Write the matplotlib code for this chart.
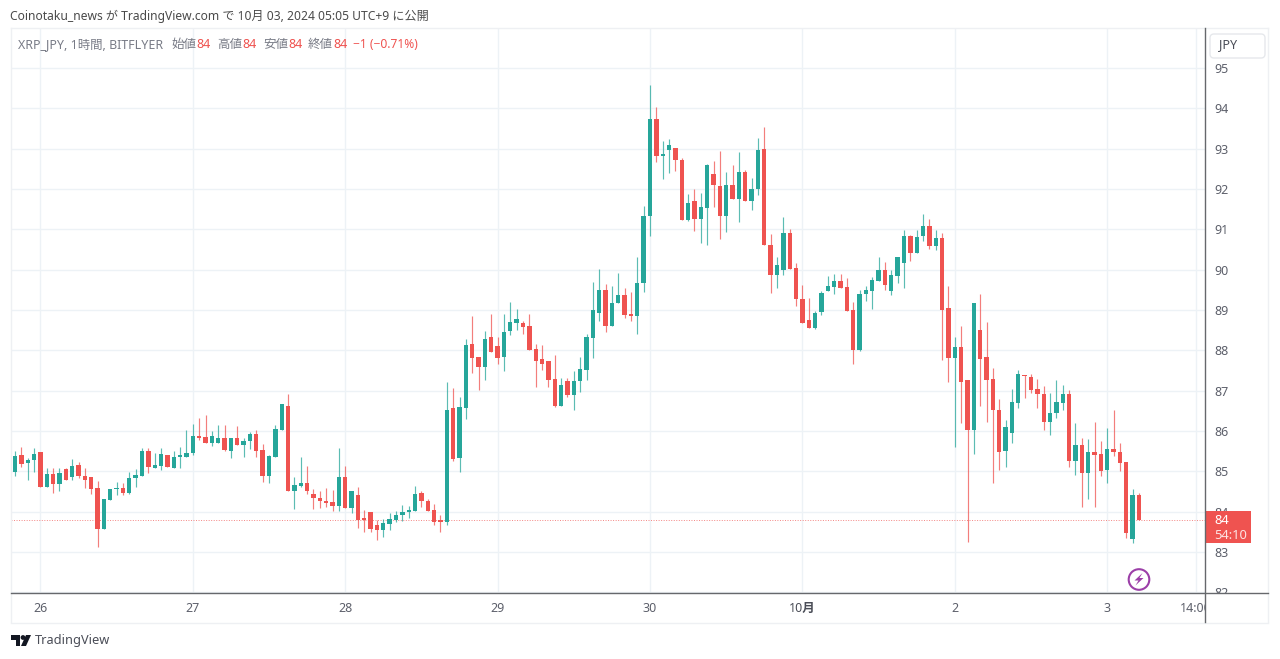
import matplotlib
matplotlib.use("Agg")
import matplotlib.pyplot as plt
from matplotlib.patches import Rectangle, Circle, Polygon, FancyBboxPatch
from matplotlib.transforms import Bbox, IdentityTransform, blended_transform_factory

plt.rcParams["font.family"] = ["Noto Sans", "Noto Sans CJK JP", "DejaVu Sans"]

W, H = 1280, 659
UP = "#26a69a"
DOWN = "#ef5350"
GRID = "#edf2f6"
TEXT = "#5d606b"

# hourly candles
opens = [84.99, 85.40, 85.21, 85.28, 85.47, 84.62, 84.93, 84.69, 85.05, 84.85,
         85.16, 84.88, 84.85, 84.58, 83.57, 84.29, 84.56, 84.58, 84.47, 84.83,
         84.88, 85.50, 85.09, 85.13, 85.40, 85.09, 85.36, 85.36, 85.45, 85.88,
         85.85, 85.69, 85.69, 85.82, 85.49, 85.82, 85.65, 85.74, 85.92, 85.53,
         84.87, 85.36, 86.02, 86.62, 84.50, 84.64, 84.72, 84.44, 84.33, 84.26,
         84.23, 84.14, 84.85, 84.10, 84.41, 83.82, 84.00, 83.67, 83.55, 83.69,
         83.79, 83.92, 83.98, 84.02, 84.45, 84.26, 84.04, 83.77, 83.75, 86.56,
         85.32, 86.56, 88.16, 87.83, 87.59, 88.32, 88.10, 87.83, 88.47, 88.68,
         88.67, 88.60, 88.02, 87.78, 87.73, 87.29, 86.62, 87.23, 86.88, 87.23,
         87.50, 88.31, 88.93, 89.50, 88.60, 89.16, 89.38, 88.89, 88.85, 89.66,
         91.32, 93.73, 92.81, 92.96, 93.01, 92.72, 91.24, 91.69, 91.26, 91.53,
         92.37, 92.08, 91.34, 92.10, 91.76, 92.43, 91.70, 92.00, 92.98, 90.62,
         89.87, 89.99, 90.91, 90.04, 89.28, 88.74, 88.55, 88.96, 89.47, 89.57,
         89.71, 89.56, 88.99, 88.01, 89.39, 89.47, 89.72, 89.98, 89.47, 89.84,
         90.17, 90.83, 90.40, 90.82, 91.07, 90.59, 90.79, 89.04, 87.80, 88.07,
         87.26, 86.02, 88.50, 87.83, 87.28, 86.53, 85.50, 85.95, 86.70, 87.39,
         87.34, 87.05, 86.92, 86.21, 86.45, 86.70, 86.92, 85.25, 85.66, 84.96,
         85.48, 85.42, 85.03, 85.56, 85.47, 85.23, 83.33, 84.41]
highs = [85.50, 85.60, 85.33, 85.57, 85.47, 85.09, 85.07, 85.07, 85.09, 85.31,
         85.23, 85.09, 84.85, 84.76, 84.31, 84.55, 84.74, 84.72, 84.97, 85.06,
         85.57, 85.57, 85.45, 85.57, 85.40, 85.50, 85.60, 86.02, 86.17, 86.31,
         86.40, 86.00, 86.15, 86.15, 85.82, 86.11, 85.82, 85.96, 86.02, 85.67,
         85.40, 86.15, 86.66, 86.92, 84.85, 85.36, 85.12, 84.56, 84.50, 84.58,
         84.54, 85.57, 85.12, 84.51, 84.62, 84.04, 84.00, 83.79, 83.82, 83.96,
         84.02, 84.17, 84.14, 84.64, 84.51, 84.31, 84.18, 83.92, 87.20, 87.07,
         86.83, 88.28, 88.85, 87.83, 88.47, 88.89, 88.32, 88.90, 89.19, 89.02,
         88.73, 88.91, 88.15, 88.12, 87.73, 87.89, 87.31, 87.31, 87.49, 87.82,
         88.40, 89.68, 90.01, 89.64, 89.60, 89.91, 89.54, 89.45, 90.31, 91.57,
         94.58, 94.02, 93.20, 93.24, 93.01, 92.76, 91.87, 92.00, 91.91, 92.63,
         92.68, 92.95, 92.41, 92.59, 92.91, 92.48, 92.26, 93.25, 93.53, 90.88,
         90.31, 91.30, 91.00, 90.16, 89.61, 89.30, 88.98, 89.47, 89.84, 89.89,
         89.89, 89.79, 89.20, 89.50, 89.60, 89.82, 90.31, 90.19, 89.98, 90.31,
         90.97, 90.86, 90.97, 91.37, 91.26, 90.97, 90.91, 89.60, 88.32, 88.59,
         87.26, 89.18, 89.39, 88.69, 87.55, 86.78, 86.28, 87.03, 87.51, 87.39,
         87.40, 87.28, 87.11, 86.95, 87.26, 87.15, 87.01, 86.19, 85.83, 85.81,
         86.21, 85.75, 86.06, 86.53, 85.69, 85.23, 84.55, 84.45]
lows = [84.87, 85.10, 84.79, 84.99, 84.62, 84.62, 84.47, 84.50, 84.79, 84.79,
        84.84, 84.58, 84.44, 83.13, 83.57, 84.29, 84.41, 84.41, 84.44, 84.62,
        84.88, 84.95, 85.09, 85.03, 85.10, 85.07, 85.09, 85.36, 85.40, 85.78,
        85.69, 85.63, 85.69, 85.49, 85.32, 85.65, 85.34, 85.55, 85.36, 84.74,
        84.72, 85.36, 86.01, 84.50, 84.07, 84.60, 84.44, 84.07, 84.10, 84.12,
        84.02, 84.02, 84.10, 83.96, 83.60, 83.50, 83.49, 83.30, 83.38, 83.55,
        83.75, 83.77, 83.85, 84.02, 84.12, 84.02, 83.67, 83.50, 83.67, 85.26,
        84.99, 86.30, 87.44, 87.02, 87.27, 87.95, 87.67, 87.48, 88.37, 88.51,
        88.41, 88.00, 87.10, 87.50, 87.10, 86.59, 86.62, 86.84, 86.51, 86.96,
        87.25, 87.81, 88.72, 88.46, 88.60, 89.16, 88.80, 88.72, 88.39, 89.45,
        90.84, 92.67, 92.25, 92.40, 92.45, 91.23, 91.20, 90.95, 90.66, 90.62,
        91.56, 90.75, 90.93, 91.74, 91.18, 91.70, 91.47, 91.86, 90.60, 89.41,
        89.54, 89.87, 90.01, 89.10, 88.67, 88.55, 88.52, 88.88, 89.47, 89.39,
        89.55, 88.98, 87.65, 87.99, 89.22, 89.02, 89.72, 89.49, 89.38, 89.66,
        89.55, 90.21, 90.40, 90.72, 90.50, 90.49, 87.76, 87.22, 85.59, 86.19,
        83.25, 85.42, 86.62, 86.23, 84.72, 85.03, 85.11, 85.71, 86.56, 86.81,
        86.95, 86.57, 86.02, 85.91, 86.31, 86.52, 85.11, 84.90, 84.12, 84.30,
        84.12, 84.89, 84.71, 85.37, 85.00, 83.35, 83.22, 83.79]
closes = [85.38, 85.18, 85.28, 85.43, 84.62, 84.93, 84.69, 84.95, 84.79, 85.13,
          84.87, 84.79, 84.55, 83.57, 84.31, 84.55, 84.58, 84.47, 84.84, 84.91,
          85.50, 85.10, 85.15, 85.42, 85.10, 85.36, 85.37, 85.46, 85.88, 85.83,
          85.69, 85.88, 85.83, 85.53, 85.82, 85.65, 85.75, 85.92, 85.50, 84.87,
          85.38, 86.04, 86.66, 84.50, 84.66, 84.70, 84.52, 84.33, 84.25, 84.21,
          84.14, 84.85, 84.10, 84.51, 83.79, 83.80, 83.57, 83.55, 83.71, 83.81,
          83.92, 84.00, 84.04, 84.44, 84.25, 84.02, 83.75, 83.75, 86.52, 85.30,
          86.58, 88.12, 87.81, 87.59, 88.28, 87.95, 87.81, 88.45, 88.70, 88.78,
          88.57, 88.00, 87.73, 87.66, 87.27, 86.62, 87.15, 86.88, 87.24, 87.54,
          88.32, 89.00, 89.50, 88.60, 89.16, 89.38, 88.87, 88.85, 89.66, 91.33,
          93.73, 92.82, 92.87, 93.10, 92.71, 91.24, 91.66, 91.26, 91.54, 92.59,
          92.09, 91.34, 92.10, 91.74, 92.43, 91.70, 92.01, 92.96, 90.60, 89.87,
          90.11, 90.91, 90.01, 89.26, 88.67, 88.55, 88.93, 89.42, 89.59, 89.71,
          89.55, 88.98, 88.01, 89.40, 89.49, 89.74, 89.98, 89.61, 89.86, 90.31,
          90.83, 90.40, 90.81, 91.07, 90.59, 90.79, 89.00, 87.80, 88.07, 87.20,
          86.02, 89.18, 87.77, 87.26, 86.52, 85.48, 86.09, 86.72, 87.40, 87.36,
          87.01, 86.91, 86.21, 86.44, 86.72, 86.92, 85.25, 85.66, 84.96, 85.47,
          85.39, 85.00, 85.56, 85.47, 85.21, 83.48, 84.41, 83.79]

price_ticks = list(range(82, 96))
time_ticks = [4, 28, 52, 76, 100, 124, 148, 172, 186]
time_labels = ["26", "27", "28", "29", "30", "10月", "2", "3", "14:00"]


def fx(px):
    return px / W


def fy(px):
    return 1 - px / H


fig = plt.figure(figsize=(W / 100, H / 100), dpi=100, facecolor="white")

# pane runs x 11-1205, y 28-593
ax = fig.add_axes([fx(11), fy(593), fx(1205 - 11), (593 - 28) / H])
ax.set_xlim(-0.63, 187.4)
ax.set_ylim(81.98, 95.99)
ax.set_axisbelow(True)
for s in ax.spines.values():
    s.set_visible(False)

xs = range(len(closes))
colors = [UP if c >= o else DOWN for o, c in zip(opens, closes)]
ax.vlines(xs, lows, highs, colors=colors, lw=0.85, alpha=0.75, zorder=3)
bottoms = [min(o, c) for o, c in zip(opens, closes)]
heights = [max(abs(c - o), 0.03) for o, c in zip(opens, closes)]
ax.bar(xs, heights, bottom=bottoms, width=0.68, color=colors, lw=0, zorder=4)

ax.axhline(closes[-1], color=DOWN, lw=0.7, ls=(0, (1, 1.6)), alpha=0.7, zorder=2)

ax.set_yticks(price_ticks)
ax.yaxis.tick_right()
ax.set_xticks(time_ticks)
ax.set_xticklabels(time_labels)
ax.grid(color=GRID, lw=1)
ax.tick_params(axis="both", length=0, labelcolor=TEXT, labelsize=9)
ax.tick_params(axis="y", pad=7)
ax.tick_params(axis="x", pad=6.5)

# labels get cut at the axis lines, like the original
for lab in ax.get_yticklabels():
    if lab.get_text() == "82":
        lab.set_clip_box(Bbox([[1205, H - 593], [1268, H - 28]]))
        lab.set_clip_on(True)
for lab in ax.get_xticklabels():
    lab.set_clip_box(Bbox([[11, H - 622], [1205, H - 593]]))
    lab.set_clip_on(True)
    if lab.get_text() == "10月":
        lab.set_fontweight("bold")
        lab.set_color("#4a4d57")

# frame lines
px = IdentityTransform()


def hline(y, x0, x1, color, lw=1.0):
    fig.add_artist(plt.Line2D([x0, x1], [H - y, H - y], color=color, lw=lw, transform=px))


def vline(x, y0, y1, color, lw=1.0):
    fig.add_artist(plt.Line2D([x, x], [H - y0, H - y1], color=color, lw=lw, transform=px))


hline(28, 11, 1268, "#eef0f3")
hline(622.5, 11, 1268, "#eef0f3")
vline(11, 28, 622, "#eef0f3")
vline(1268, 28, 622, "#eef0f3")
hline(593, 11, 1268, "#66686c")
vline(1204.5, 28, 622, "#66686c")

# last price tag
tr = blended_transform_factory(ax.transAxes, ax.transData)
ax.add_patch(Rectangle((1.0, closes[-1] - 0.58), 46 / 1194, 0.80, transform=tr,
                       facecolor=DOWN, edgecolor="none", clip_on=False, zorder=10))
ax.text(1.0 + 9 / 1194, closes[-1] - 0.0, "84", transform=tr, color="white",
        fontsize=9.3, fontweight="bold", va="center", zorder=11)
ax.text(1.0 + 9 / 1194, closes[-1] - 0.39, "54:10", transform=tr, color="#fde3e3",
        fontsize=9.3, va="center", zorder=11)

# currency box
fig.add_artist(FancyBboxPatch((1210, H - 58), 55, 24, boxstyle="round,pad=0,rounding_size=4",
                              facecolor="white", edgecolor="#e6e8ec", lw=1, transform=px))
fig.text(fx(1219), fy(45), "JPY", color="#4a4d57", fontsize=9, va="center")

# lightning badge
fig.add_artist(Circle((1139, H - 579.5), 10.3, facecolor="white", edgecolor="#9c3fa8", lw=1.5, transform=px))
fig.add_artist(Polygon([(1142.5, H - 573), (1134.5, H - 580.5), (1138.5, H - 580.5), (1135.5, H - 585.5),
                        (1143.5, H - 578), (1139.5, H - 578)], closed=True, facecolor="#9c3fa8",
                       edgecolor="none", transform=px))

# header
fig.text(fx(10), fy(16), "Coinotaku_news が TradingView.com で 10月 03, 2024 05:05 UTC+9 に公開",
         color="#4a4a4a", fontsize=8.7, va="center")

# legend row
fig.text(fx(18), fy(44.5), "XRP_JPY, 1時間, BITFLYER", color="#787b86", fontsize=8.95, va="center")
for x_name, x_val, name in [(171, 196, "始値"), (217, 242, "高値"), (263, 288, "安値"), (308, 333, "終値")]:
    fig.text(fx(x_name), fy(44.5), name, color="#787b86", fontsize=9, va="center")
    fig.text(fx(x_val), fy(44.5), "84", color=DOWN, fontsize=9, va="center")
fig.text(fx(353), fy(44.5), "−1 (−0.71%)", color=DOWN, fontsize=8.6, va="center")

# logo
fig.add_artist(Polygon([(11, H - 635), (20, H - 635), (20, H - 646), (15.5, H - 646), (15.5, H - 640), (11, H - 640)],
                       closed=True, facecolor="#131722", edgecolor="none", transform=px))
fig.add_artist(Circle((23, H - 637.5), 2.4, facecolor="#131722", edgecolor="none", transform=px))
fig.add_artist(Polygon([(26, H - 635), (31, H - 635), (26, H - 646), (21, H - 646)], closed=True,
                       facecolor="#131722", edgecolor="none", transform=px))
fig.text(fx(35), fy(640.5), "TradingView", color="#4a4d57", fontsize=9.2, va="center")

fig.savefig("out.png", dpi=100, facecolor="white")
